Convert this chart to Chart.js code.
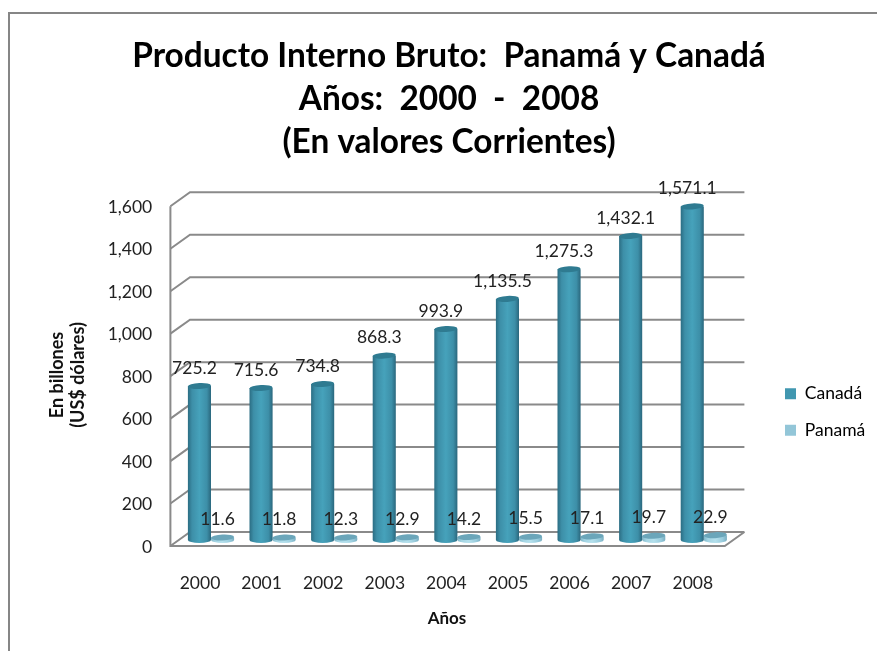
<!DOCTYPE html>
<html><head><meta charset="utf-8">
<style>html,body{margin:0;padding:0;background:#fff}#w{width:877px;height:651px;position:relative}canvas{display:block}</style>
<script src="https://cdn.jsdelivr.net/npm/chart.js@4"></script></head>
<body><div id="w"><canvas id="c" width="877" height="651"></canvas></div>
<script>
const categories = ['2000','2001','2002','2003','2004','2005','2006','2007','2008'];
const canadaValues = [725.2,715.6,734.8,868.3,993.9,1135.5,1275.3,1432.1,1571.1];
const panamaValues = [11.6,11.8,12.3,12.9,14.2,15.5,17.1,19.7,22.9];
const seriesNames = ['Canadá','Panamá'];
const titleLines = ['Producto Interno Bruto:  Panamá y Canadá','Años:  2000  -  2008','(En valores Corrientes)'];
const yTitleLines = ['En billones','(US$ dólares)'];
const xTitle = 'Años';
const FONT = 'Lato, "Open Sans", sans-serif';
const catPct = 0.75, depthX = 9.8, frontDy = 6, backDy = -8, capRy = 3;
const swatch = ['#4197b0','#93c6d8'];
const grads = [['#2b6d83','#3d8fa8','#46a2bb','#3d8fa8','#2a677d'],['#7fb6c8','#a3d4e3','#b4e0ec','#98cbdc','#78adc0']];
const gradStops = [0,0.18,0.5,0.82,1];

function barFill(ds){
  return function(ctx){
    const chart = ctx.chart, s = chart.scales.x;
    if(!s || !chart.chartArea || ctx.dataIndex === undefined) return swatch[ds];
    const c = s.getPixelForValue(ctx.dataIndex), w = s.width/categories.length*catPct/2;
    const l = ds===0 ? c-w : c;
    const g = chart.ctx.createLinearGradient(l,0,l+w,0);
    gradStops.forEach((p,i)=>g.addColorStop(p,grads[ds][i]));
    return g;
  };
}
const fmt = v => v.toLocaleString('en-US',{minimumFractionDigits:1,maximumFractionDigits:1});

const scene = {
  id:'scene',
  beforeDraw(chart){
    const c = chart.ctx;
    const t = chart.titleBlock; t.left = 21; t.right = 877; t.width = 856;
    const lg = chart.legend; lg.left = 766; lg.right = 877; lg.top = 363; lg.bottom = 461;
    c.save(); c.strokeStyle = '#868686'; c.lineWidth = 2;
    c.beginPath(); c.moveTo(9,651); c.lineTo(9,13); c.lineTo(877,13); c.stroke(); c.restore();
  },
  beforeDatasetsDraw(chart){
    const c = chart.ctx, y = chart.scales.y, a = chart.chartArea;
    const fl = a.left-depthX, bl = a.left+depthX, fr = a.right-depthX, br = a.right+depthX;
    c.save(); c.strokeStyle = '#8a8a8a'; c.lineWidth = 2; c.lineJoin='miter';
    y.ticks.forEach(tk=>{
      const p = y.getPixelForValue(tk.value);
      c.beginPath(); c.moveTo(fl,p+frontDy); c.lineTo(bl,p+backDy); c.lineTo(br,p+backDy); c.stroke();
    });
    const p0 = y.getPixelForValue(0), pm = y.getPixelForValue(y.max);
    c.beginPath(); c.moveTo(fl,pm+frontDy); c.lineTo(fl,p0+frontDy); c.lineTo(fr,p0+frontDy); c.lineTo(br,p0+backDy); c.stroke();
    c.restore();
  },
  afterDatasetsDraw(chart){
    const c = chart.ctx;
    chart.data.datasets.forEach((d,di)=>{
      chart.getDatasetMeta(di).data.forEach((b,i)=>{
        const rx = b.width/2;
        c.save();
        c.beginPath(); c.ellipse(b.x,b.base,rx,capRy,0,0,Math.PI);
        const g = c.createLinearGradient(b.x-rx,0,b.x+rx,0);
        gradStops.forEach((p,k)=>g.addColorStop(p,grads[di][k]));
        c.fillStyle = g; c.fill();
        c.beginPath(); c.ellipse(b.x,b.y,rx,capRy,-0.05,0,Math.PI*2);
        c.fillStyle = di===0 ? '#2f7b91' : '#6ba6ba'; c.fill();
        c.restore();
      });
    });
    c.save(); c.font = '17.5px '+FONT; c.fillStyle = '#222'; c.textAlign='center'; c.textBaseline='middle';
    chart.data.datasets.forEach((d,di)=>{
      chart.getDatasetMeta(di).data.forEach((b,i)=>{ c.fillText(fmt(d.data[i]), b.x-5, b.y-18); });
    });
    c.restore();
    c.save(); c.fillStyle = '#111'; c.textAlign='center'; c.textBaseline='middle';
    c.font = 'bold 17px '+FONT;
    c.fillText(xTitle, 447, 619);
    c.font = 'bold 18px '+FONT;
    c.translate(67.5,375); c.rotate(-Math.PI/2);
    yTitleLines.forEach((l,i)=>c.fillText(l,0,(i-0.5)*21));
    c.restore();
  }
};

new Chart(document.getElementById('c'),{
  type:'bar',
  data:{labels:categories,datasets:[
    {label:seriesNames[0],data:canadaValues,backgroundColor:barFill(0),categoryPercentage:catPct,barPercentage:1},
    {label:seriesNames[1],data:panamaValues,backgroundColor:barFill(1),categoryPercentage:catPct,barPercentage:1}
  ]},
  options:{
    responsive:false,animation:false,
    layout:{padding:{left:0,right:142.4,top:0,bottom:0}},
    plugins:{
      title:{display:true,text:titleLines,font:{family:FONT,size:33.4,weight:'bold',lineHeight:1.29},color:'#000',padding:{top:35,bottom:36}},
      legend:{position:'chartArea',align:'center',labels:{boxWidth:11,boxHeight:11,padding:19,color:'#222',font:{family:FONT,size:17.5},
        generateLabels:()=>seriesNames.map((n,i)=>({text:n,fillStyle:swatch[i],strokeStyle:swatch[i],lineWidth:0,datasetIndex:i}))}},
      tooltip:{enabled:false}
    },
    scales:{
      x:{grid:{display:false},border:{display:false},
        ticks:{color:'#222',font:{family:FONT,size:17.5},padding:25,labelOffset:-11,maxRotation:0},
        afterFit(s){s.height=111;}},
      y:{min:0,max:1600,grid:{display:false},border:{display:false},
        ticks:{stepSize:200,color:'#222',font:{family:FONT,size:17.5},padding:20,labelOffset:7,callback:v=>v.toLocaleString('en-US')},
        afterFit(s){s.width=180.2;}}
    }
  },
  plugins:[scene]
});
</script></body></html>
